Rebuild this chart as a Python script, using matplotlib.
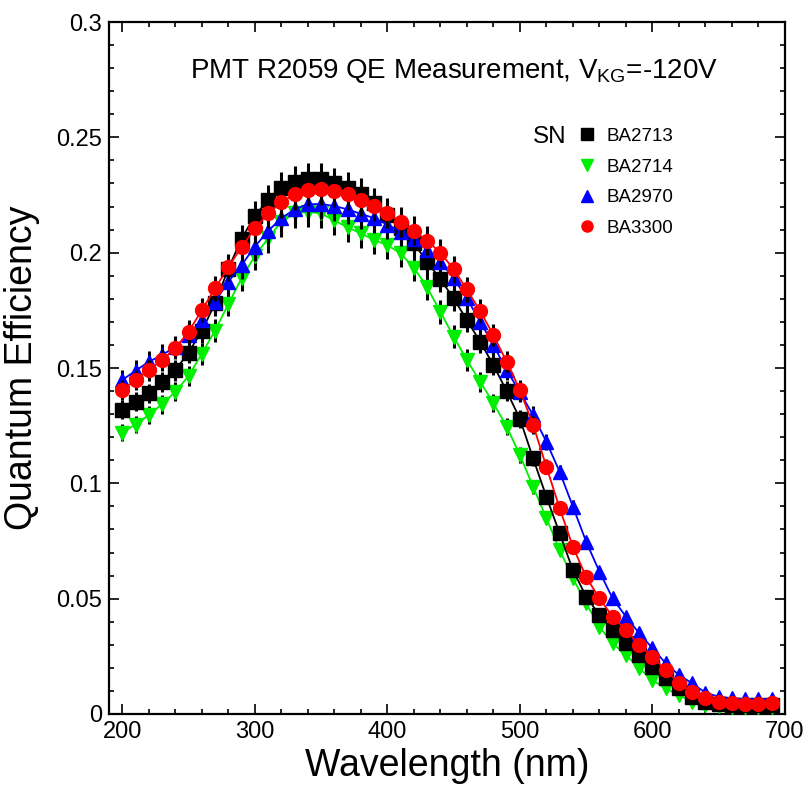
"""
PMT R2059 quantum efficiency vs wavelength for four tubes (V_KG = -120 V).
"""
import matplotlib
matplotlib.use("Agg")
import matplotlib.pyplot as plt
from matplotlib.lines import Line2D
from matplotlib.ticker import MultipleLocator
import numpy as np

plt.rcParams["font.family"] = ["Liberation Sans", "DejaVu Sans"]
plt.rcParams["mathtext.fontset"] = "custom"
plt.rcParams["mathtext.rm"] = "Liberation Sans"

# ── data ─────────────────────────────────────────────────────────────────────
wavelength = list(range(200, 700, 10))  # nm

qe_ba2713 = [0.1320, 0.1354, 0.1390, 0.1440, 0.1490, 0.1567, 0.1660, 0.1780, 0.1930, 0.2060,
             0.2160, 0.2228, 0.2280, 0.2308, 0.2318, 0.2318, 0.2300, 0.2280, 0.2255, 0.2215,
             0.2165, 0.2105, 0.2040, 0.1961, 0.1885, 0.1802, 0.1708, 0.1614, 0.1513, 0.1400,
             0.1280, 0.1108, 0.0942, 0.0783, 0.0624, 0.0509, 0.0429, 0.0364, 0.0306, 0.0256,
             0.0205, 0.0154, 0.0111, 0.0075, 0.0050, 0.0042, 0.0040, 0.0040, 0.0040, 0.0040]

qe_ba2714 = [0.1220, 0.1255, 0.1296, 0.1343, 0.1397, 0.1465, 0.1562, 0.1662, 0.1777, 0.1889,
             0.1985, 0.2062, 0.2134, 0.2170, 0.2177, 0.2170, 0.2140, 0.2110, 0.2084, 0.2055,
             0.2033, 0.1997, 0.1935, 0.1850, 0.1744, 0.1636, 0.1535, 0.1441, 0.1348, 0.1246,
             0.1123, 0.0985, 0.0849, 0.0711, 0.0588, 0.0480, 0.0378, 0.0306, 0.0256, 0.0198,
             0.0147, 0.0111, 0.0082, 0.0053, 0.0040, 0.0035, 0.0030, 0.0030, 0.0030, 0.0030]

qe_ba2970 = [0.1448, 0.1488, 0.1527, 0.1556, 0.1592, 0.1643, 0.1708, 0.1787, 0.1874, 0.1946,
             0.2026, 0.2094, 0.2149, 0.2188, 0.2210, 0.2211, 0.2202, 0.2188, 0.2168, 0.2150,
             0.2122, 0.2091, 0.2058, 0.2012, 0.1961, 0.1889, 0.1802, 0.1701, 0.1600, 0.1491,
             0.1395, 0.1295, 0.1180, 0.1050, 0.0899, 0.0747, 0.0617, 0.0501, 0.0422, 0.0350,
             0.0285, 0.0220, 0.0169, 0.0133, 0.0092, 0.0075, 0.0068, 0.0065, 0.0064, 0.0065]

qe_ba3300 = [0.1405, 0.1448, 0.1490, 0.1535, 0.1585, 0.1657, 0.1750, 0.1845, 0.1937, 0.2024,
             0.2105, 0.2170, 0.2218, 0.2253, 0.2272, 0.2274, 0.2268, 0.2253, 0.2228, 0.2202,
             0.2171, 0.2134, 0.2095, 0.2052, 0.2000, 0.1928, 0.1841, 0.1747, 0.1643, 0.1527,
             0.1405, 0.1253, 0.1072, 0.0892, 0.0725, 0.0594, 0.0501, 0.0422, 0.0364, 0.0299,
             0.0248, 0.0191, 0.0133, 0.0097, 0.0068, 0.0053, 0.0046, 0.0045, 0.0045, 0.0046]

REL_ERR = 0.03  # relative QE uncertainty shown as black error bars

# plotting order: bottom → top
SERIES = [
    ("BA2714", qe_ba2714, "v", "#00ee00"),
    ("BA2713", qe_ba2713, "s", "black"),
    ("BA2970", qe_ba2970, "^", "#0000ff"),
    ("BA3300", qe_ba3300, "o", "#ff0000"),
]
LEGEND_ORDER = ["BA2713", "BA2714", "BA2970", "BA3300"]

# ── plot ─────────────────────────────────────────────────────────────────────
fig = plt.figure(figsize=(8.08, 7.87), dpi=100)
ax = fig.add_axes([0.1349, 0.0928, 0.8366, 0.8792])

x = np.array(wavelength)
for i, (name, qe, marker, color) in enumerate(SERIES):
    y = np.array(qe)
    ax.errorbar(x, y, yerr=REL_ERR * y, fmt="none", ecolor="black",
                elinewidth=2.2, capsize=0, zorder=2 + 2 * i)
    ax.plot(x, y, color=color, lw=1.3, marker=marker, ms=10,
            mec=color, mfc=color, zorder=3 + 2 * i)

ax.set_xlim(190, 700)
ax.set_ylim(0, 0.3)
ax.xaxis.set_major_locator(MultipleLocator(100))
ax.xaxis.set_minor_locator(MultipleLocator(20))
ax.yaxis.set_major_locator(MultipleLocator(0.05))
ax.yaxis.set_minor_locator(MultipleLocator(0.01))
ax.set_yticks([0, 0.05, 0.1, 0.15, 0.2, 0.25, 0.3])
ax.set_yticklabels(["0", "0.05", "0.1", "0.15", "0.2", "0.25", "0.3"])
ax.tick_params(which="both", direction="in", top=True, right=True,
               width=1.2, labelsize=17, pad=5, colors="black")
ax.tick_params(which="major", length=7.5)
ax.tick_params(which="minor", length=3.8)
for sp in ax.spines.values():
    sp.set_linewidth(1.6)

ax.set_xlabel("Wavelength (nm)", fontsize=27, labelpad=4)
ax.set_ylabel("Quantum Efficiency", fontsize=27, labelpad=12)

ax.text(0.12, 0.919, r"PMT R2059 QE Measurement, V$_{\mathrm{KG}}$=-120V",
        transform=ax.transAxes, fontsize=20, ha="left", va="baseline")

# legend
style = {name: (marker, color) for name, _, marker, color in SERIES}
handles = [Line2D([], [], ls="none", marker=style[n][0], color=style[n][1], ms=8)
           for n in LEGEND_ORDER]
ax.legend(handles, LEGEND_ORDER, loc="upper left", bbox_to_anchor=(0.693, 0.847),
          frameon=False, fontsize=13.5, handlelength=1.0, handletextpad=0.57,
          labelspacing=0.72, borderpad=0, borderaxespad=0)
ax.text(0.627, 0.834, "SN", transform=ax.transAxes, fontsize=17.5,
        ha="left", va="center")

fig.savefig("out.png", dpi=100)
